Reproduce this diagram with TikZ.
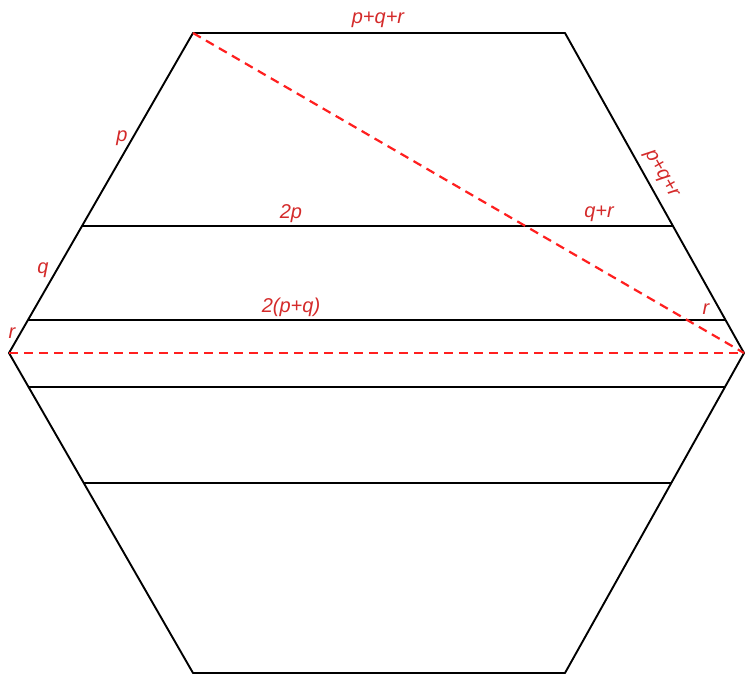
\documentclass[tikz,border=0pt]{standalone}
\usepackage{fontspec}
\setmainfont{Liberation Sans}
\usetikzlibrary{calc}
\definecolor{cred}{HTML}{FF1F1F}
\definecolor{ctext}{HTML}{D42A2A}
\tikzset{
  every picture/.style={x=1pt, y=-1pt, line width=1.9pt},
  edge/.style={draw=black, line join=round},
  cut/.style={draw=cred, line width=2.2pt, dash pattern=on 9pt off 6pt},
  lbl/.style={text=ctext, font=\fontsize{20}{22}\selectfont\itshape, inner sep=1pt},
}
\begin{document}
\begin{tikzpicture}
  \useasboundingbox (0,0) rectangle (745,677);
  % hexagon
  \coordinate (tl) at (193,33);
  \coordinate (tr) at (565,33);
  \coordinate (rv) at (744,353);
  \coordinate (br) at (565,673);
  \coordinate (bl) at (193,673);
  \coordinate (lv) at (9,353);
  \draw[edge] (tl) -- (tr) -- (rv) -- (br) -- (bl) -- (lv) -- cycle;
  % strips
  \foreach \n/\t in {a/0.603, b/0.897} {
    \coordinate (\n-west) at ($(tl)!\t!(lv)$);
    \coordinate (\n-east) at ($(tr)!\t!(rv)$);
    \draw[edge] (\n-west) -- (\n-east);
  }
  \foreach \n/\t in {c/0.106, d/0.406} {
    \coordinate (\n-west) at ($(lv)!\t!(bl)$);
    \coordinate (\n-east) at ($(rv)!\t!(br)$);
    \draw[edge] (\n-west) -- (\n-east);
  }
  % dashed cuts
  \draw[cut] (tl) -- (rv);
  \draw[cut] (lv) -- (rv);
  % labels
  \node[lbl] (top) at (378,20) {p+q+r};
  \node[lbl] (lp) at (122,138) {p};
  \node[lbl, rotate=-60.6] (rs) at (661,174) {p+q+r};
  \node[lbl] (twop) at (291,214) {2p};
  \node[lbl] (qr) at (599,214) {q+r};
  \node[lbl] (lq) at (43,270) {q};
  \node[lbl] (twopq) at (291,307) {2(p+q)};
  \node[lbl] (rr) at (706,309) {r};
  \node[lbl] (lr) at (12,333) {r};
\end{tikzpicture}
\end{document}
